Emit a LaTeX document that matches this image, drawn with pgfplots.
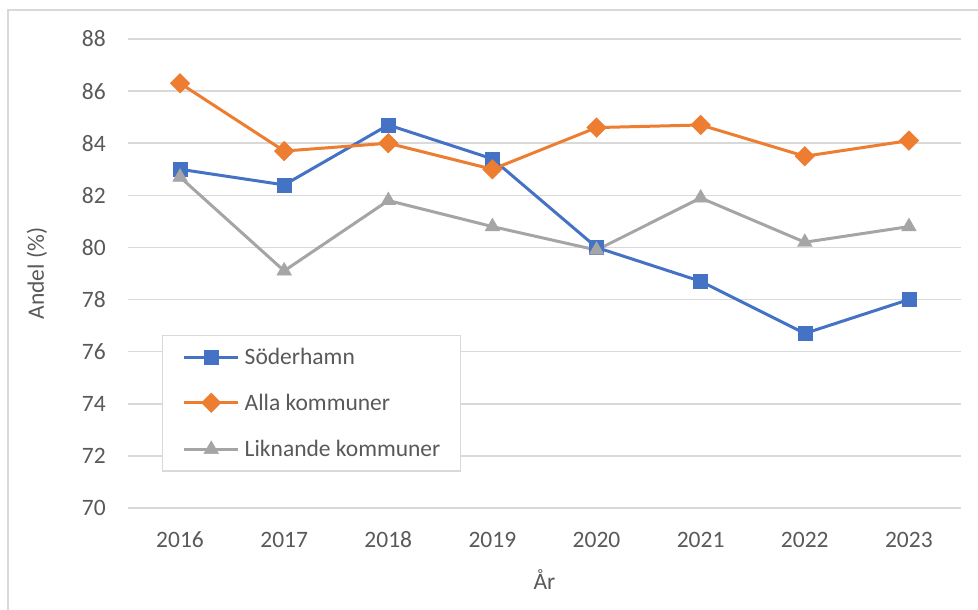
\documentclass[border=0pt]{standalone}
\usepackage{fontspec}
\setmainfont{Carlito}
\usepackage{pgfplots}
\pgfplotsset{compat=1.18}
\definecolor{sblue}{HTML}{4472C4}
\definecolor{sorange}{HTML}{ED7D31}
\definecolor{sgray}{HTML}{A5A5A5}
\definecolor{gridgray}{HTML}{D9D9D9}
\definecolor{txtgray}{HTML}{595959}

\begin{document}
\begin{tikzpicture}[x=1pt,y=1pt]
\path[use as bounding box] (0,0) rectangle (978,610);
\draw[gridgray,line width=1.5pt] (8,-20) -- (8,600) -- (1000,600);
\begin{axis}[
  at={(128pt,102pt)},anchor=south west,
  scale only axis,width=833pt,height=469pt,
  xmin=2015.5,xmax=2023.5,ymin=70,ymax=88,
  xtick={2016,...,2023},ytick={70,72,...,88},
  /pgf/number format/assume math mode=true,
  /pgf/number format/set thousands separator={},
  axis line style={draw=none},major tick length=0pt,
  ymajorgrids=true,grid style={gridgray,line width=1.5pt},
  font=\fontsize{23.5}{28}\selectfont,
  tick label style={text=txtgray,inner sep=0pt},
  xticklabel style={anchor=center,yshift=-32pt},
  yticklabel style={anchor=east,xshift=-22pt},
  xlabel={År},ylabel={Andel (\%)},
  label style={text=txtgray},
  xlabel style={at={(axis description cs:0.5,-0.1535)},anchor=center},
  ylabel style={at={(axis description cs:-0.1092,0.5)},anchor=center},
  legend cell align=left,
  legend image code/.code={\draw[#1,mark repeat=2,mark phase=2] plot coordinates {(0pt,0pt) (27pt,0pt) (54pt,0pt)};},
  legend style={at={(0.0408,0.3689)},anchor=north west,draw=gridgray,line width=1.5pt,
    fill=white,text=txtgray,inner xsep=20pt,inner ysep=14pt,row sep=30pt,
    nodes={inner sep=0pt,text height=15pt,text depth=0pt},
    /tikz/every odd column/.append style={column sep=5pt}},
  every axis plot/.append style={line width=3pt,mark options={solid,line width=0.4pt}},
]
\addplot[sblue,mark=square*,mark size=7pt] coordinates {
(2016,83.0) (2017,82.4) (2018,84.7) (2019,83.4) (2020,80.0) (2021,78.7) (2022,76.7) (2023,78.0)};
\addplot[sorange,mark=square*,mark size=5.7pt,mark options={rotate=45}] coordinates {
(2016,86.3) (2017,83.7) (2018,84.0) (2019,83.0) (2020,84.6) (2021,84.7) (2022,83.5) (2023,84.1)};
\addplot[sgray,mark=triangle*,mark size=8.5pt] coordinates {
(2016,82.7) (2017,79.1) (2018,81.8) (2019,80.8) (2020,79.9) (2021,81.9) (2022,80.2) (2023,80.8)};
\legend{Söderhamn,Alla kommuner,Liknande kommuner}
\end{axis}
\end{tikzpicture}
\end{document}
